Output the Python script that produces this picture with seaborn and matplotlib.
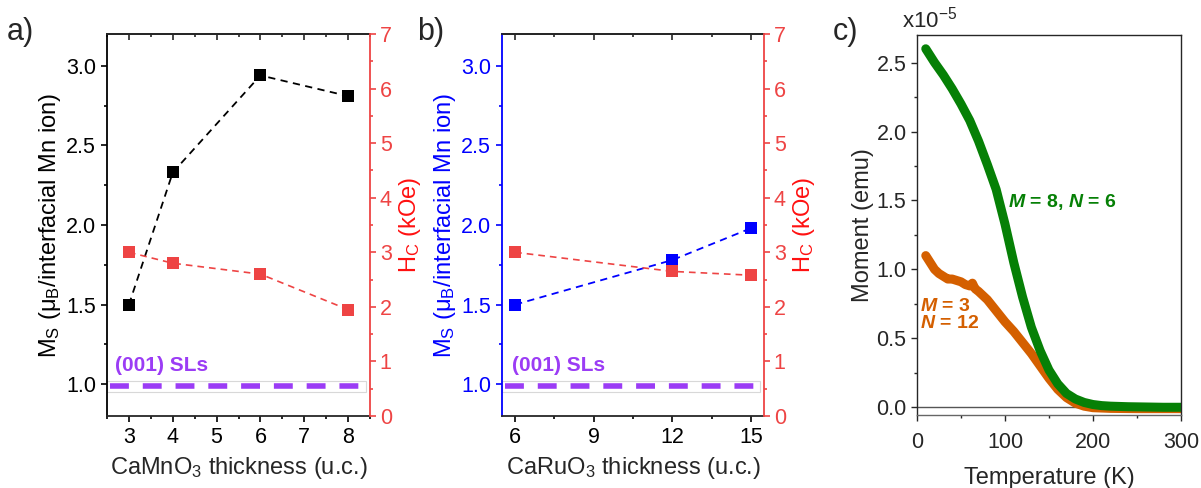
import numpy as np
import pandas as pd
import matplotlib
matplotlib.use("Agg")
import matplotlib.pyplot as plt
import seaborn as sns
from matplotlib.ticker import MultipleLocator, FormatStrFormatter

# --- DATA ---
mn_thick = [3, 4, 6, 8]
mn_ms = [1.50, 2.33, 2.94, 2.81]
mn_hc = [3.0, 2.8, 2.6, 1.95]

ru_thick = [6, 12, 15]
ru_ms = [1.50, 1.78, 1.98]
ru_hc = [3.0, 2.65, 2.58]

SL_LEVEL = 0.99

temp_m8 = [10, 15, 20, 30, 40, 50, 60, 70, 80, 90, 100, 110, 120, 130, 140,
           150, 160, 170, 180, 190, 200, 210, 220, 240, 260, 280, 300]
mom_m8 = [2.60, 2.55, 2.50, 2.41, 2.31, 2.20, 2.08, 1.93, 1.76, 1.58, 1.33, 1.05,
          0.80, 0.58, 0.41, 0.27, 0.17, 0.10, 0.06, 0.035, 0.02, 0.012, 0.008,
          0.004, 0.002, 0.0, 0.0]

temp_m3 = [10, 15, 20, 25, 30, 35, 40, 45, 50, 55, 60, 63, 66, 70, 80, 90,
           100, 110, 120, 130, 140, 150, 160, 170, 180, 190, 200, 220, 250, 300]
mom_m3 = [1.10, 1.05, 1.00, 0.97, 0.95, 0.93, 0.93, 0.92, 0.91, 0.89, 0.88,
          0.90, 0.86, 0.84, 0.78, 0.70, 0.62, 0.55, 0.47, 0.39, 0.30, 0.21,
          0.13, 0.07, 0.03, 0.008, -0.003, -0.008, -0.01, -0.01]

# --- STYLE ---
RED = "#ee4444"
BLUE = "#0000ff"
PURPLE = "#9b3cf5"
GREEN = "#068006"
ORANGE = "#d45f00"

sns.set_style("ticks")
plt.rcParams["font.family"] = ["Liberation Sans", "DejaVu Sans"]
plt.rcParams["mathtext.fontset"] = "custom"
plt.rcParams["mathtext.rm"] = "Liberation Sans"
plt.rcParams["mathtext.it"] = "Liberation Sans:italic"
plt.rcParams["mathtext.bf"] = "Liberation Sans:bold"
plt.rcParams["mathtext.bfit"] = "Liberation Sans:italic:bold"

TICK_FS = 15.5
LABEL_FS = 17

fig = plt.figure(figsize=(12.01, 4.88), dpi=100)


def thickness_panel(rect, x, ms, hc, left_color, xlim, xmajor, xminor, xlabel, sl_x):
    ax = fig.add_axes(rect)
    sns.lineplot(x=x, y=ms, ax=ax, color=left_color, marker="s", markersize=8,
                 markeredgewidth=0, linestyle=(0, (4, 3)), linewidth=1.3)
    ax.set_xlim(*xlim)
    ax.set_ylim(0.8, 3.2)
    ax.xaxis.set_major_locator(MultipleLocator(xmajor))
    ax.xaxis.set_minor_locator(MultipleLocator(xminor))
    ax.yaxis.set_major_locator(MultipleLocator(0.5))
    ax.yaxis.set_minor_locator(MultipleLocator(0.25))
    ax.tick_params(which="both", direction="out", labelsize=TICK_FS, width=1.2)
    ax.tick_params(which="major", length=4, pad=4)
    ax.tick_params(which="minor", length=2)
    ax.tick_params(axis="y", which="both", colors=left_color)
    ax.tick_params(axis="x", which="both", colors="black")
    ax.spines["left"].set_color(left_color)
    for s in ["left", "top", "bottom"]:
        ax.spines[s].set_linewidth(1.3)
    ax.spines["right"].set_visible(False)
    ax.set_xlabel(xlabel, fontsize=LABEL_FS, labelpad=5)
    ax.set_ylabel(r"M$_\mathrm{S}$ (μ$_\mathrm{B}$/interfacial Mn ion)",
                  fontsize=LABEL_FS, color=left_color, labelpad=2)

    top = ax.secondary_xaxis("top")
    top.xaxis.set_major_locator(MultipleLocator(xmajor))
    top.xaxis.set_minor_locator(MultipleLocator(xminor))
    top.tick_params(which="both", direction="in", labeltop=False, width=1.2)
    top.tick_params(which="major", length=4)
    top.tick_params(which="minor", length=2)
    top.spines["top"].set_linewidth(1.3)

    # SL reference band
    ax.axhspan(0.948, 1.021, xmin=0, xmax=0.985, facecolor="none",
               edgecolor="#d8d8d8", linewidth=0.8, zorder=1)
    ax.axhline(SL_LEVEL, xmin=0.01, xmax=0.975, color=PURPLE, linewidth=4,
               linestyle=(0, (3.4, 2.5)), zorder=2)
    ax.text(sl_x, 1.12, "(001) SLs", color=PURPLE, fontsize=15,
            fontweight="bold", va="center", ha="left")

    ax2 = ax.twinx()
    sns.lineplot(x=x, y=hc, ax=ax2, color=RED, marker="s", markersize=8,
                 markeredgewidth=0, linestyle=(0, (4, 3)), linewidth=1.2)
    ax2.set_ylim(0, 7)
    ax2.yaxis.set_major_locator(MultipleLocator(1))
    ax2.yaxis.set_minor_locator(MultipleLocator(0.5))
    ax2.tick_params(which="both", direction="out", labelsize=TICK_FS,
                    colors=RED, width=1.2)
    ax2.tick_params(which="major", length=4, pad=3)
    ax2.tick_params(which="minor", length=2)
    for s in ["left", "top", "bottom"]:
        ax2.spines[s].set_visible(False)
    ax2.spines["right"].set_color(RED)
    ax2.spines["right"].set_linewidth(1.3)
    ax2.set_ylabel(r"H$_\mathrm{C}$ (kOe)", fontsize=LABEL_FS, color="#ff1010",
                   labelpad=4)
    return ax


thickness_panel([0.0891, 0.1475, 0.219, 0.7828], mn_thick, mn_ms, mn_hc,
                "black", (2.5, 8.5), 1, 0.5,
                r"CaMnO$_3$ thickness (u.c.)", 2.68)
thickness_panel([0.418, 0.1475, 0.2182, 0.7828], ru_thick, ru_ms, ru_hc,
                BLUE, (5.5, 15.5), 3, 1.5,
                r"CaRuO$_3$ thickness (u.c.)", 5.87)

# --- panel c ---
axc = fig.add_axes([0.7635, 0.1496, 0.2198, 0.7787])
df3 = pd.DataFrame({"T": temp_m3, "M": mom_m3})
df8 = pd.DataFrame({"T": temp_m8, "M": mom_m8})
sns.lineplot(data=df3, x="T", y="M", ax=axc, color=ORANGE, linewidth=6.5,
             solid_capstyle="round", solid_joinstyle="round")
sns.lineplot(data=df8, x="T", y="M", ax=axc, color=GREEN, linewidth=6.5,
             solid_capstyle="round", solid_joinstyle="round")
axc.axhline(0, color="#555555", linewidth=1.0, zorder=0)
axc.set_xlim(0, 300)
axc.set_ylim(-0.056, 2.7)
axc.xaxis.set_major_locator(MultipleLocator(100))
axc.xaxis.set_minor_locator(MultipleLocator(50))
axc.yaxis.set_major_locator(MultipleLocator(0.5))
axc.yaxis.set_minor_locator(MultipleLocator(0.25))
axc.yaxis.set_major_formatter(FormatStrFormatter("%.1f"))
axc.tick_params(which="both", direction="out", labelsize=TICK_FS, width=1.0)
axc.tick_params(which="major", length=4)
axc.tick_params(axis="x", which="major", pad=8)
axc.tick_params(which="minor", length=2)
for s in axc.spines.values():
    s.set_linewidth(1.0)
axc.spines["bottom"].set_color("#666666")
axc.set_xlabel("Temperature (K)", fontsize=LABEL_FS, labelpad=10)
axc.set_ylabel("Moment (emu)", fontsize=LABEL_FS, labelpad=2)
axc.text(103, 1.49, r"$\mathbfit{M}$ = 8, $\mathbfit{N}$ = 6", color=GREEN,
         fontsize=14, fontweight="bold", va="center", ha="left")
axc.text(4, 0.67, "$\\mathbfit{M}$ = 3\n$\\mathbfit{N}$ = 12", color=ORANGE,
         fontsize=14, fontweight="bold", va="center", ha="left",
         linespacing=1.05)
fig.text(0.751, 0.96, r"x10$^{-5}$", fontsize=16, ha="left", va="center")

# panel letters
fig.text(0.006, 0.935, "a)", fontsize=22, ha="left", va="center")
fig.text(0.347, 0.935, "b)", fontsize=22, ha="left", va="center")
fig.text(0.693, 0.935, "c)", fontsize=22, ha="left", va="center")

fig.savefig("out.png", dpi=100)
